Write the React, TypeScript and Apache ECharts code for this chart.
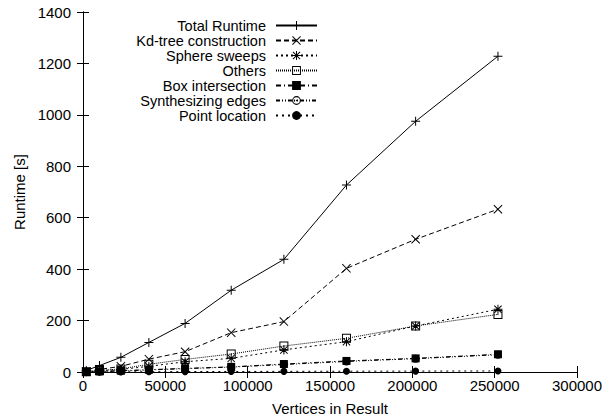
import React, { useEffect, useRef } from 'react';
import * as echarts from 'echarts';

const vertices = [2000, 10000, 23000, 40000, 62000, 90000, 122000, 160000, 202000, 252000];
const totalRuntime = [6, 25, 57, 115, 189, 318, 438, 727, 975, 1228];
const kdTree = [2, 10, 22, 50, 79, 153, 196, 403, 516, 633];
const sphereSweeps = [1, 5, 10, 22, 40, 53, 86, 118, 179, 244];
const others = [1, 6, 12, 30, 49, 70, 101, 131, 179, 224];
const boxIntersection = [0.5, 2, 5, 9, 14, 20, 31, 43, 53, 69];
const synthEdges = [0.5, 2, 4, 8, 13, 19, 29, 41, 52, 67];
const pointLocation = [0.1, 0.3, 0.6, 1, 1.5, 2, 2.5, 3, 3.5, 4];

const seriesNames = [
  'Total Runtime',
  'Kd-tree construction',
  'Sphere sweeps',
  'Others',
  'Box intersection',
  'Synthesizing edges',
  'Point location',
];
const seriesValues = [totalRuntime, kdTree, sphereSweeps, others, boxIntersection, synthEdges, pointLocation];

const xMin = 0;
const xMax = 300000;
const xStep = 50000;
const yMin = 0;
const yMax = 1400;
const yStep = 200;

const PLUS = 'path://M4,0 H5 V4 H9 V5 H5 V9 H4 V5 H0 V4 H4 Z';
const CROSS =
  'path://M0,0.7 L0.7,0 L4.5,3.8 L8.3,0 L9,0.7 L5.2,4.5 L9,8.3 L8.3,9 L4.5,5.2 L0.7,9 L0,8.3 L3.8,4.5 Z';
const STAR =
  'path://M4,0 H5 V4 H9 V5 H5 V9 H4 V5 H0 V4 H4 Z M0.5,1.2 L1.2,0.5 L4.5,3.8 L7.8,0.5 L8.5,1.2 L5.2,4.5 L8.5,7.8 L7.8,8.5 L4.5,5.2 L1.2,8.5 L0.5,7.8 L3.8,4.5 Z';
const OPENBOX = 'path://M0,0 H9 V9 H0 Z M1,1 V8 H8 V1 Z M4,4 H5 V5 H4 Z';
const OPENCIRCLE =
  'path://M0,4.5 A4.5,4.5 0 1 1 9,4.5 A4.5,4.5 0 1 1 0,4.5 Z M1.1,4.5 A3.4,3.4 0 1 0 7.9,4.5 A3.4,3.4 0 1 0 1.1,4.5 Z M3.8,4.5 A0.7,0.7 0 1 1 5.2,4.5 A0.7,0.7 0 1 1 3.8,4.5 Z';

const styles = [
  { symbol: PLUS, size: 9, dash: 'solid' as any },
  { symbol: CROSS, size: 9, dash: [5, 3] },
  { symbol: STAR, size: 9, dash: [2, 3] },
  { symbol: OPENBOX, size: 9, dash: [1, 1] },
  { symbol: 'rect', size: 8, dash: [5, 3, 1, 3] },
  { symbol: OPENCIRCLE, size: 8, dash: [4, 2, 1, 2, 1, 2] },
  { symbol: 'circle', size: 7, dash: [2, 4] },
];

const FONT = '"Liberation Sans", Arial, Helvetica, sans-serif';
const FS = 15;
const LEGEND_FS = 14.5;

export default function App() {
  const ref = useRef<HTMLDivElement>(null);
  useEffect(() => {
    if (!ref.current) return;
    const chart = echarts.init(ref.current, undefined, { renderer: 'svg' });
    const series = seriesNames.map((name, i) => ({
      name,
      type: 'line',
      data: vertices.map((x, j) => [x, seriesValues[i][j]]),
      symbol: styles[i].symbol,
      symbolSize: styles[i].size,
      showAllSymbol: true,
      lineStyle: { color: '#000', width: 1, type: styles[i].dash },
      itemStyle: { color: '#000', borderWidth: 0 },
      z: 10 - i,
    }));
    const axisCommon = {
      axisLine: { show: true, lineStyle: { color: '#000', width: 1 } },
      axisTick: { show: true, inside: true, length: 6, lineStyle: { color: '#000' } },
      splitLine: { show: false },
    };
    const plain = (v: number) => String(v);
    chart.setOption({
      animation: false,
      backgroundColor: '#fff',
      textStyle: { fontFamily: FONT, color: '#000' },
      grid: { left: 83, right: 28, top: 12, bottom: 47, containLabel: false, outerBoundsMode: 'none' },
      legend: {
        orient: 'vertical',
        align: 'right',
        right: 287,
        top: 18,
        padding: 0,
        itemWidth: 41,
        itemHeight: 11,
        itemGap: 0,
        selectedMode: false,
        data: seriesNames,
        textStyle: {
          fontSize: LEGEND_FS,
          fontFamily: FONT,
          color: '#000',
          lineHeight: 14.4,
          padding: [0, 5, 0, 0],
        },
      },
      xAxis: [
        {
          type: 'value',
          min: xMin,
          max: xMax,
          interval: xStep,
          position: 'bottom',
          name: 'Vertices in Result',
          nameLocation: 'middle',
          nameGap: 29,
          nameTextStyle: { fontSize: FS, fontFamily: FONT, color: '#000' },
          axisLabel: { fontSize: FS, fontFamily: FONT, color: '#000', margin: 6, formatter: plain },
          ...axisCommon,
        },
        {
          type: 'value',
          min: xMin,
          max: xMax,
          interval: xStep,
          position: 'top',
          axisLabel: { show: false },
          ...axisCommon,
        },
      ],
      yAxis: [
        {
          type: 'value',
          min: yMin,
          max: yMax,
          interval: yStep,
          position: 'left',
          name: 'Runtime [s]',
          nameLocation: 'middle',
          nameGap: 56,
          nameTextStyle: { fontSize: FS, fontFamily: FONT, color: '#000' },
          axisLabel: { fontSize: FS, fontFamily: FONT, color: '#000', margin: 12, formatter: plain },
          ...axisCommon,
        },
        {
          type: 'value',
          min: yMin,
          max: yMax,
          interval: yStep,
          position: 'right',
          axisLabel: { show: false },
          ...axisCommon,
        },
      ],
      series,
    });
    return () => chart.dispose();
  }, []);
  return (
    <div
      ref={ref}
      style={{ position: 'absolute', left: 0, top: 0, width: 605, height: 419, background: '#fff' }}
    />
  );
}
